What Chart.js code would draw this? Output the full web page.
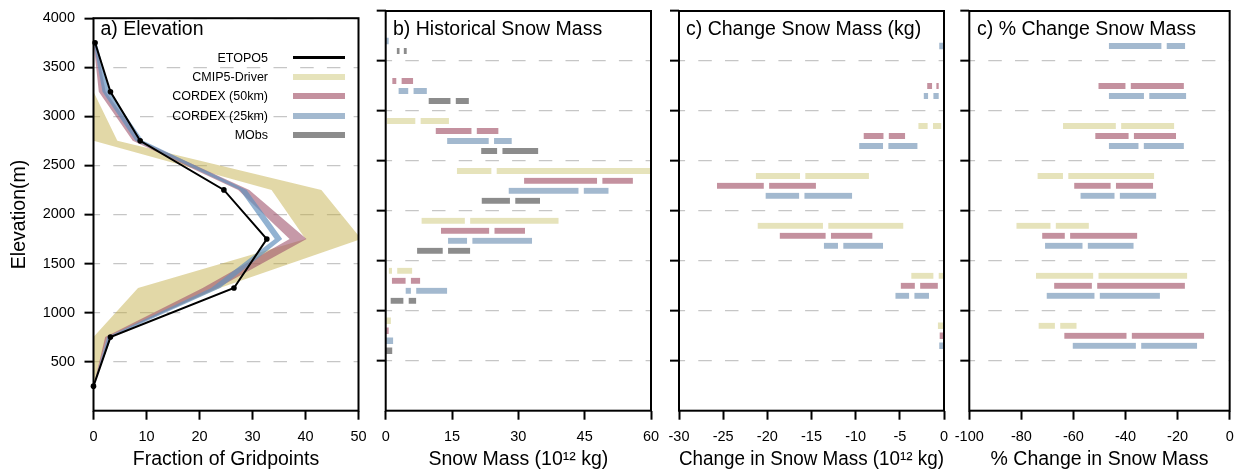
<!DOCTYPE html>
<html>
<head>
<meta charset="utf-8">
<title>Snow mass by elevation</title>
<script src="https://cdn.jsdelivr.net/npm/chart.js@4.4.1/dist/chart.umd.min.js"></script>
<style>
  html, body { margin: 0; padding: 0; background: #fff; }
  #fig { position: relative; width: 1242px; height: 473px; overflow: hidden;
         font-family: "Liberation Sans", Arial, Helvetica, sans-serif; color: #000; }
  #fig canvas { position: absolute; left: 0; top: 0; }
  .ptitle { position: absolute; top: 18px; font-size: 19.5px; line-height: 20px; white-space: nowrap; z-index: 2; }
  .lgtext { position: absolute; left: 120px; width: 148px; text-align: right; font-size: 12.5px; line-height: 14px; white-space: nowrap; z-index: 2; }
  .lgline { position: absolute; left: 293px; width: 52px; z-index: 2; }
</style>
</head>
<body>
<div id="fig">
  <canvas id="chartA" width="1242" height="473"></canvas>
  <canvas id="chartB" width="1242" height="473"></canvas>
  <canvas id="chartC" width="1242" height="473"></canvas>
  <canvas id="chartD" width="1242" height="473"></canvas>
  <div class="ptitle" style="left:100.5px">a) Elevation</div>
  <div class="ptitle" style="left:393px">b) Historical Snow Mass</div>
  <div class="ptitle" style="left:686px">c) Change Snow Mass (kg)</div>
  <div class="ptitle" style="left:977px">c) % Change Snow Mass</div>
  <div id="legend"></div>
</div>
<script>
// elevation bins (m), 500 m wide, lowest first
const binCenters = [250, 750, 1250, 1750, 2250, 2750, 3250, 3750];
const elevTicks = [500, 1000, 1500, 2000, 2500, 3000, 3500, 4000];

const seriesNames = ['ETOPO5', 'CMIP5-Driver', 'CORDEX (50km)', 'CORDEX (25km)', 'MObs'];

// a) fraction of gridpoints per bin, ETOPO5 line and [min, max] ranges
const etopo5 = [0, 3.2, 26.5, 32.7, 24.6, 8.8, 3.2, 0.3];
const cmip5Range = [[0, 0], [0, 2.5], [8.4, 23.8], [40, 50.5], [33.6, 43.0], [0, 4.5], [0, 0], [0, 0]];
const cordex50Range = [[0, 0], [2.2, 3.0], [20.6, 23.4], [37.0, 40.2], [27.3, 29.4], [7.4, 9.0], [1.0, 2.3], [0, 0.5]];
const cordex25Range = [[0, 0], [2.6, 3.4], [22.2, 23.9], [34.2, 35.6], [27.6, 28.9], [7.9, 9.4], [1.7, 3.0], [0, 0.6]];

// b)-d) [low, middle, high] per bin; null = no bar, middle null = unsplit bar
const histCmip5 = [null, [0, null, 1.1], [0.7, 2.0, 6.0], [8.1, 18.5, 39.1], [16.1, 24.5, 62], [0.3, 7.3, 14.3], null, null];
const histCordex50 = [null, [0, null, 0.6], [1.4, 5.1, 7.8], [12.5, 24.0, 31.5], [31.3, 48.4, 55.9], [11.3, 20.0, 25.5], [1.5, 3.0, 6.2], null];
const histCordex25 = [null, [0, null, 1.6], [4.5, 6.3, 13.9], [14.1, 19.0, 33.1], [27.8, 44.2, 50.4], [13.9, 23.9, 28.5], [2.9, 5.7, 9.3], [0, null, 0.6]];
const histMObs = [null, [0, null, 1.4], [1.1, 4.6, 6.9], [7.1, 13.5, 19.1], [21.7, 28.7, 34.9], [21.6, 25.8, 34.5], [9.7, 15.25, 18.8], [2.5, 3.6, 4.75]];

const chgCmip5 = [null, [-0.65, null, 0], [-3.7, -0.9, 0], [-21.1, -13.4, -4.6], [-21.3, -16.0, -8.5], [-2.9, -1.55, -0.3], null, null];
const chgCordex50 = [null, [-0.45, null, 0], [-4.9, -3.0, -0.7], [-18.6, -13.1, -8.1], [-25.7, -20.1, -14.5], [-9.1, -6.55, -4.4], [-1.9, -1.05, -0.6], null];
const chgCordex25 = [null, [-0.5, null, 0], [-5.5, -3.65, -1.7], [-13.6, -11.7, -6.9], [-20.2, -16.1, -10.4], [-9.6, -6.6, -3.0], [-2.3, -1.5, -0.6], [-0.5, null, 0]];

const pctCmip5 = [null, [-73.4, -66.1, -58.8], [-74.4, -51.4, -16.3], [-81.9, -67.8, -54.1], [-73.8, -63.0, -29.0], [-64.0, -42.7, -21.3], null, null];
const pctCordex50 = [null, [-63.5, -38.6, -9.8], [-67.4, -51.9, -17.2], [-72.0, -62.3, -35.5], [-59.7, -44.7, -29.4], [-51.6, -37.8, -20.6], [-50.4, -39.0, -17.6], null];
const pctCordex25 = [null, [-60.3, -35.0, -12.5], [-70.3, -50.9, -26.8], [-70.9, -55.5, -36.9], [-57.3, -43.2, -28.2], [-46.4, -34.0, -17.6], [-46.4, -31.9, -16.7], [-46.4, -25.2, -17.1]];

const fracTicks = [0, 10, 20, 30, 40, 50];
const massTicks = [0, 15, 30, 45, 60];
const changeTicks = [-30, -25, -20, -15, -10, -5, 0];
const pctTicks = [-100, -80, -60, -40, -20, 0];

// colours
const lineColors = ['#000000', '#e6e3bb', '#c4919f', '#a3b9cf', '#8c8c8c'];
const bandColors = ['rgba(190,168,60,0.45)', 'rgba(160,85,110,0.6)', 'rgba(100,145,190,0.7)'];

Chart.defaults.font.family = '"Liberation Sans", Arial, Helvetica, sans-serif';
Chart.defaults.color = '#000';
Chart.defaults.animation = false;
Chart.defaults.plugins.legend.display = false;
Chart.defaults.plugins.tooltip.enabled = false;

const W = 1242, H = 473, PLOT_TOP = 11, PLOT_BOTTOM = 410.7;

const frame = {
    id: 'frame',
    afterDatasetsDraw(chart) {
        const { ctx, chartArea: a } = chart;
        ctx.save();
        ctx.lineWidth = 2;
        ctx.strokeStyle = '#000';
        ctx.strokeRect(a.left, a.top, a.width, a.height);
        ctx.restore();
    }
};

function elevAxis(axisWidth, withLabels) {
    return {
        type: 'linear', min: 0, max: 4000, offset: false,
        afterBuildTicks: s => { s.ticks = elevTicks.map(v => ({ value: v })); },
        afterFit: s => { s.width = axisWidth; },
        ticks: { display: withLabels, padding: 9.5, font: { size: 14.5 }, callback: v => String(v) },
        grid: { offset: false, color: '#c6c6c6', lineWidth: 1.3, tickColor: '#000', tickWidth: 2, tickLength: 9 },
        border: { display: false, dash: [13.5, 13.2], dashOffset: 7.4 },
        title: { display: withLabels, text: 'Elevation(m)', font: { size: 19.5 }, padding: { top: 7.5, bottom: 0 } }
    };
}

function valueAxis(ticksArr, title) {
    return {
        type: 'linear', min: ticksArr[0], max: ticksArr[ticksArr.length - 1],
        afterBuildTicks: s => { s.ticks = ticksArr.map(v => ({ value: v })); },
        afterFit: s => { s.height = H - PLOT_BOTTOM; },
        ticks: { padding: 8.3, font: { size: 14.5 }, maxRotation: 0, autoSkip: false, callback: v => String(v) },
        grid: { drawOnChartArea: false, tickColor: '#000', tickWidth: 2, tickLength: 9 },
        border: { display: false },
        title: { display: true, text: title, font: { size: 19.5 }, padding: { top: 0, bottom: 1.3 } }
    };
}

function layoutFor(left, right, axisWidth) {
    return { padding: { left: left - axisWidth, right: W - right, top: PLOT_TOP, bottom: 0 } };
}

// a) elevation profile
const pts = vals => binCenters.map((e, i) => ({ x: vals[i], y: e }));
function band(range, color) {
    return [
        { data: pts(range.map(r => r[1])), fill: '+1', backgroundColor: color, borderWidth: 0, pointRadius: 0 },
        { data: pts(range.map(r => r[0])), fill: false, borderWidth: 0, pointRadius: 0 }
    ];
}

new Chart(document.getElementById('chartA'), {
    type: 'line',
    data: {
        datasets: [
            { label: seriesNames[0], data: pts(etopo5), borderColor: '#000', borderWidth: 2,
              pointRadius: 2.8, pointBackgroundColor: '#000', pointBorderWidth: 0, fill: false, clip: 4 },
            ...band(cordex25Range, bandColors[2]),
            ...band(cordex50Range, bandColors[1]),
            ...band(cmip5Range, bandColors[0])
        ]
    },
    options: {
        responsive: false,
        indexAxis: 'y',
        layout: layoutFor(93.5, 358.5, 93.5),
        scales: { x: valueAxis(fracTicks, 'Fraction of Gridpoints'), y: elevAxis(93.5, true) }
    },
    plugins: [frame]
});

// b)-d) split range bars, one row per series inside each bin
function rowY(bin, k, n) {
    return binCenters[bin] + 100 * ((n - 1) / 2 - k);
}

function barSets(list) {
    const sets = [];
    list.forEach((s, k) => {
        const low = [], high = [], whole = [];
        s.values.forEach((v, i) => {
            if (!v) return;
            const y = rowY(i, k, list.length);
            if (v[1] === null) {
                whole.push({ x: [v[0], v[2]], y });
            } else {
                low.push({ x: [v[0], v[1]], y });
                high.push({ x: [v[1], v[2]], y });
            }
        });
        const common = { backgroundColor: s.color, borderColor: '#fff', borderSkipped: false,
                         barThickness: 6, grouped: false };
        sets.push({ ...common, data: low, borderWidth: { right: 3 } });
        sets.push({ ...common, data: high, borderWidth: { left: 3 } });
        sets.push({ ...common, data: whole, borderWidth: 0 });
    });
    return sets;
}

function barChart(id, list, ticksArr, title, left, right) {
    return new Chart(document.getElementById(id), {
        type: 'bar',
        data: { datasets: barSets(list) },
        options: {
            responsive: false,
            indexAxis: 'y',
            layout: layoutFor(left, right, 20),
            scales: { x: valueAxis(ticksArr, title), y: elevAxis(20, false) }
        },
        plugins: [frame]
    });
}

barChart('chartB', [
    { values: histCmip5, color: lineColors[1] },
    { values: histCordex50, color: lineColors[2] },
    { values: histCordex25, color: lineColors[3] },
    { values: histMObs, color: lineColors[4] }
], massTicks, 'Snow Mass (10¹² kg)', 385.7, 651);

barChart('chartC', [
    { values: chgCmip5, color: lineColors[1] },
    { values: chgCordex50, color: lineColors[2] },
    { values: chgCordex25, color: lineColors[3] }
], changeTicks, 'Change in Snow Mass (10¹² kg)', 679, 944);

barChart('chartD', [
    { values: pctCmip5, color: lineColors[1] },
    { values: pctCordex50, color: lineColors[2] },
    { values: pctCordex25, color: lineColors[3] }
], pctTicks, '% Change in Snow Mass', 969.3, 1235);

// legend inside panel a
const legend = document.getElementById('legend');
seriesNames.forEach((name, k) => {
    const cy = 57.5 + 19.4 * k;
    const t = document.createElement('div');
    t.className = 'lgtext';
    t.style.top = (cy - 7) + 'px';
    t.textContent = name;
    legend.appendChild(t);
    const l = document.createElement('div');
    const thick = k === 0 ? 2.5 : 6;
    l.className = 'lgline';
    l.style.top = (cy - thick / 2) + 'px';
    l.style.height = thick + 'px';
    l.style.background = lineColors[k];
    legend.appendChild(l);
});
</script>
</body>
</html>
